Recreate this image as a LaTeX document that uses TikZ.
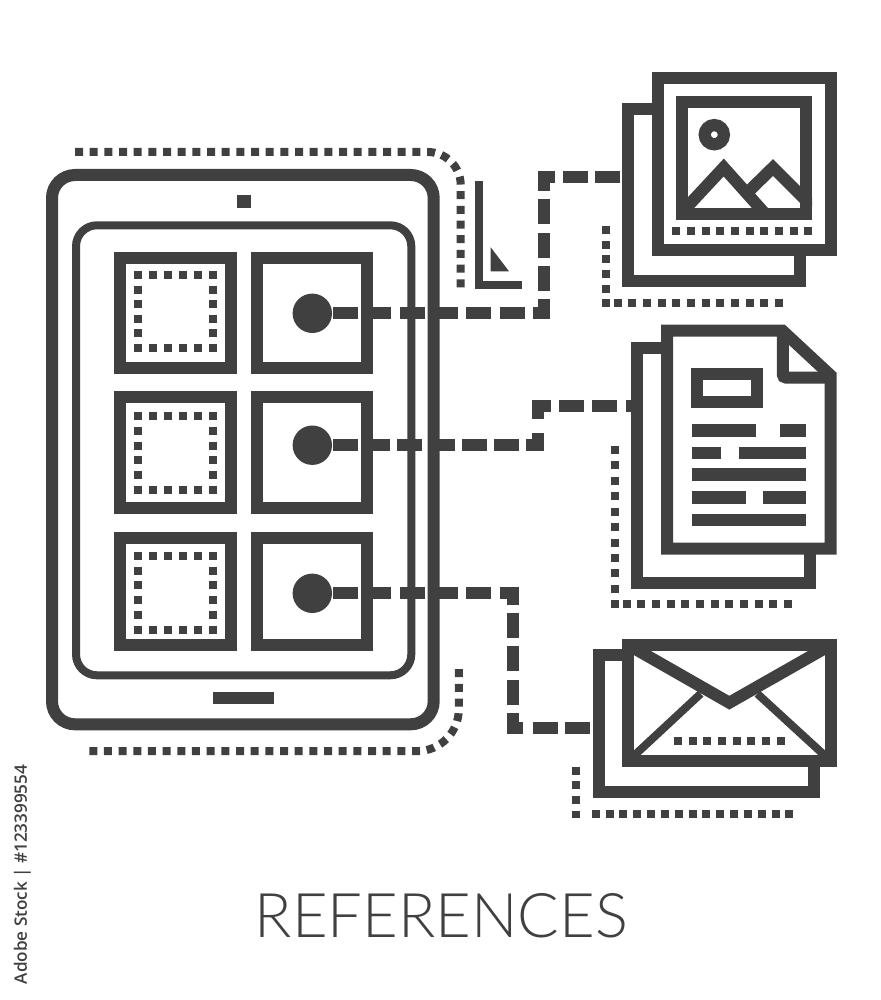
\documentclass[tikz,border=0pt]{standalone}
\usepackage{fontspec}
\usepackage{graphicx}
\newfontfamily\titlefont{Lato Light}
\newfontfamily\sidefont{Open Sans Semibold}
\definecolor{ink}{HTML}{404040}
\tikzset{
  heavy/.style={draw=ink,line width=12pt,line join=miter,line cap=butt},
  medium/.style={draw=ink,line width=8pt,line join=miter,line cap=butt},
  solidfill/.style={fill=ink,draw=none},
  dashline/.style={draw=ink,line width=12pt,dash pattern=on 25pt off #1pt,line join=miter},
  dashline/.default=8.33,
  dotline/.style={draw=ink,line width=8pt,dash pattern=on 8pt off #1pt},
  dotline/.default=6.67,
  knob/.style={circle,fill=ink,draw=none,minimum size=39.4pt,inner sep=0pt,outer sep=0pt},
  textbar/.style={draw=ink,line width=12.3pt}
}
\begin{document}
\begin{tikzpicture}[x=1pt,y=-1pt]
\useasboundingbox (0,0) rectangle (880,1000);
\fill[white] (0,0) rectangle (880,1000);

% ---------- tablet
\draw[heavy,rounded corners=23pt] (52,175) rectangle (433.7,724.3);
\draw[medium,rounded corners=21pt] (76,225.3) rectangle (411.3,675.3);
\fill[solidfill] (237,195) rectangle (251,208.3);
\fill[solidfill] (213,692) rectangle (274,704.3);

% cells
\draw[heavy] (120,257.7) rectangle (231,368);
\draw[heavy] (257,257.7) rectangle (367.3,368);
\draw[heavy] (120,397) rectangle (231,508.3);
\draw[heavy] (257,397) rectangle (367.3,508.3);
\draw[heavy] (120,537.7) rectangle (231,645);
\draw[heavy] (257,537.7) rectangle (367.3,645);

% dotted squares in the left cells
\foreach \t/\b/\p in {271/351.7/6.53, 412.3/493.7/6.68, 552/633.7/6.74}{
  \draw[dotline=7] (134,\t+4) -- (217,\t+4);
  \draw[dotline=7] (134,\b-4) -- (217,\b-4);
  \draw[dotline=\p] (138,\t) -- (138,\b);
  \draw[dotline=\p] (213,\t) -- (213,\b);
}

% knobs
\node[knob] (dotA) at (312.3,313.3) {};
\node[knob] (dotB) at (312.3,445.2) {};
\node[knob] (dotC) at (312.3,593.3) {};

% dotted outline round the tablet
\coordinate (topS) at (75,152);
\coordinate (topC) at (460.7,152);
\coordinate (topE) at (460.7,289.3);
\draw[dotline,rounded corners=33pt] (topS) -- (topC) -- (topE);
\coordinate (botS) at (89.3,751.2);
\coordinate (botC) at (458.8,751.2);
\coordinate (botE) at (458.8,666.7);
\draw[dotline,rounded corners=42pt] (botS) -- (botC) -- (botE);

% corner mark
\draw[medium] (478.7,181.3) -- (478.7,284.7) -- (521.7,284.7);
\fill[solidfill] (490.7,247.3) -- (490.7,271.3) -- (509,271.3) -- cycle;

% ---------- photo stack
\draw[heavy] (652.3,108.7) -- (628.3,108.7) -- (628.3,281) -- (800.3,281) -- (800.3,250);
\draw[heavy] (658.3,77.7) rectangle (830.7,249.7);
\begin{scope}
  \clip (676.3,95.7) rectangle (812,219.7);
  \draw[heavy] (682.3,212) -- (723.7,167.5) -- (765,213.7);
  \draw[heavy] (748,192) -- (773,167.5) -- (812,206.5);
\end{scope}
\draw[heavy] (682.3,101.7) rectangle (806,213.7);
\draw[draw=ink,line width=12.2pt] (714.3,134.7) circle (9.6pt);
\draw[dotline] (672.3,231.3) -- (812.3,231.3);
\draw[dotline] (606,226) -- (606,307);
\draw[dotline] (613.7,303) -- (782.7,303);
\coordinate (photo) at (622.3,177.3);

% ---------- document stack
\draw[heavy] (661,347.7) -- (637.3,347.7) -- (637.3,582.7) -- (809.7,582.7) -- (809.7,550);
\draw[heavy] (667,548.7) -- (667,330.7) -- (782.5,330.7) -- (830.7,375.5) -- (830.7,548.7) -- cycle;
\draw[heavy,rounded corners=3pt] (782.8,330.7) -- (782.8,377.5) -- (830.7,377.5);
\draw[draw=ink,line width=12pt] (696.7,374) rectangle (756.7,402);
\draw[textbar] (692.3,430.5) -- (756.3,430.5) (780,430.5) -- (805.7,430.5);
\draw[textbar] (692.3,452.8) -- (721,452.8) (739.3,452.8) -- (805.7,452.8);
\draw[textbar] (692.3,474.5) -- (805.7,474.5);
\draw[textbar] (692.3,497.5) -- (745.7,497.5) (762.7,497.5) -- (805.7,497.5);
\draw[textbar] (692.3,519.8) -- (805.7,519.8);
\draw[dotline=7.43] (615.2,446) -- (615.2,608);
\draw[dotline] (622.7,604.2) -- (792.3,604.2);
\coordinate (doc) at (631.3,406.3);

% ---------- envelope stack
\draw[heavy] (622.3,655) -- (598.7,655) -- (598.7,791.7) -- (813.7,791.7) -- (813.7,761);
\draw[medium] (628.3,761) -- (700.7,693.7);
\draw[medium] (830.7,761) -- (757.3,693.7);
\draw[heavy] (628.3,645) -- (729.3,702.7) -- (830.7,645);
\draw[heavy] (628.3,645) rectangle (830.7,761);
\draw[dotline] (674,740.7) -- (784.7,740.7);
\draw[dotline] (576,766.7) -- (576,818);
\draw[dotline=5.83] (591.7,814.3) -- (793.3,814.3);
\coordinate (mail) at (593.3,728.3);

% ---------- connectors
\draw[dashline] ([xshift=1pt]dotA.east) -- (544,313.3) -- (544,177.3) -- (555.6,177.3);
\draw[dashline=7] (563.3,177.3) -- (photo);

\draw[dashline=7.2] ([xshift=1pt]dotB.east) -- (538.3,445.2) -- (538.3,432.7);
\draw[dashline] (538.3,419) -- (538.3,406.3) -- (doc);

\draw[dashline] ([xshift=1pt]dotC.east) -- (513.3,593.3) -- (513.3,728.3) -- (525.7,728.3);
\draw[dashline=7.3] (532.7,728.3) -- (mail);

% ---------- texts
\node[inner sep=0pt,outer sep=0pt,text=ink] (title) at (441.5,915.3)
  {\resizebox{373pt}{44pt}{\titlefont REFERENCES}};
\node[inner sep=0pt,outer sep=0pt,text=ink,rotate=90] (side) at (22.5,874.5)
  {\resizebox{219.5pt}{!}{\sidefont Adobe Stock | \#123399554}};
\end{tikzpicture}
\end{document}
